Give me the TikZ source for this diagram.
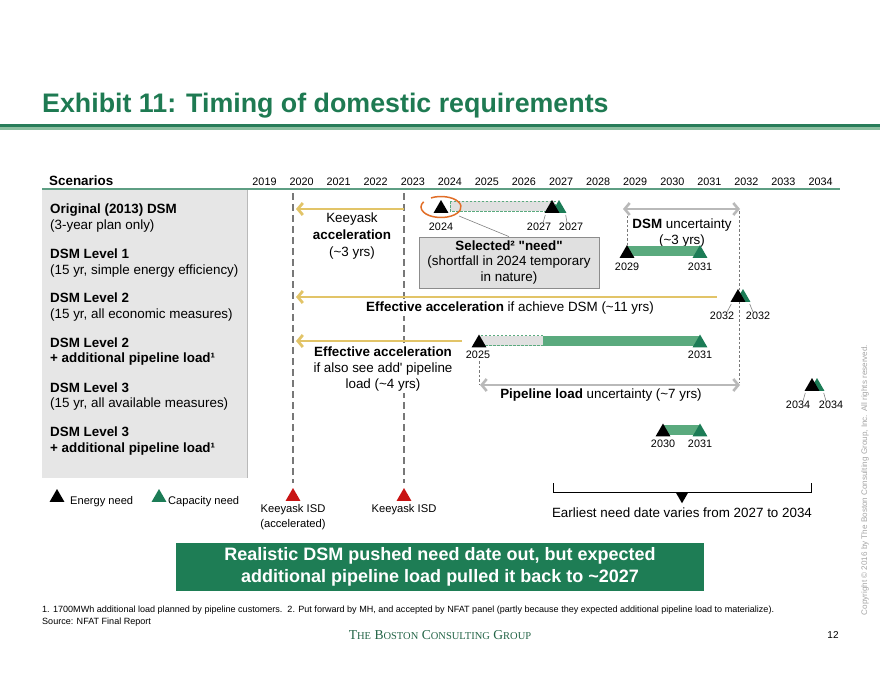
\documentclass[tikz,border=0pt]{standalone}
\usepackage{fontspec}
\setmainfont{Liberation Sans}
\newfontfamily\bcgserif{Liberation Serif}
\usetikzlibrary{arrows.meta,shapes.geometric,calc}
\definecolor{titlegreen}{RGB}{30,122,82}
\definecolor{linegreen}{RGB}{40,125,90}
\definecolor{lightgreen}{RGB}{140,190,160}
\definecolor{bargreen}{RGB}{90,170,126}
\definecolor{capgreen}{RGB}{28,124,86}
\definecolor{goldc}{RGB}{226,196,104}
\definecolor{arrowgray}{RGB}{185,185,185}
\definecolor{boxfill}{RGB}{224,224,224}
\definecolor{boxdraw}{RGB}{140,140,140}
\definecolor{panelgray}{RGB}{230,230,230}
\definecolor{needred}{RGB}{200,20,20}
\definecolor{bannergreen}{RGB}{30,125,85}
\definecolor{dashgray}{RGB}{120,120,120}
\definecolor{orangec}{RGB}{225,110,40}
\definecolor{copygray}{RGB}{165,165,165}
\definecolor{bcggreen}{RGB}{35,100,70}
\begin{document}
\begin{tikzpicture}[x=1pt,y=-1pt,
  txt/.style={font=\fontsize{13.4}{16.5}\selectfont, inner sep=0pt, align=center},
  wtxt/.style={txt, fill=white, inner sep=1.5pt},
  ltxt/.style={font=\fontsize{13.4}{16}\selectfont, inner sep=0pt, anchor=base west},
  yr/.style={font=\fontsize{10.8}{13}\selectfont, inner sep=0pt},
  smalltxt/.style={font=\fontsize{11.2}{14}\selectfont, inner sep=0pt, anchor=base},
  etri/.style={regular polygon, regular polygon sides=3, minimum size=17pt, inner sep=0pt, fill=black},
  ctri/.style={etri, fill=capgreen},
  rtri/.style={etri, fill=needred},
  goldarrow/.style={draw=goldc, line width=2.8pt, -{Straight Barb[length=5pt,width=12pt]}},
  grayarrow/.style={draw=arrowgray, line width=2.6pt, {Straight Barb[length=5pt,width=12pt]}-{Straight Barb[length=5pt,width=12pt]}},
  keyline/.style={draw=dashgray, line width=1.3pt, dash pattern=on 7pt off 4pt},
  thindash/.style={draw=dashgray, line width=0.7pt, dash pattern=on 2.5pt off 2pt},
  lead/.style={draw=gray, line width=0.6pt},
  gbar/.style={fill=bargreen},
  dbar/.style={fill=boxfill, draw=bargreen, line width=0.7pt, dash pattern=on 2.5pt off 1.5pt},
]
\useasboundingbox (0,0) rectangle (880,680);
% header
\node[anchor=base west, inner sep=0pt, font=\fontsize{26.8}{30}\selectfont\bfseries, text=titlegreen] (title) at (42,112) {Exhibit 11: Timing of domestic requirements};
\fill[linegreen] (0,124) rectangle (880,127);
\fill[lightgreen] (0,127) rectangle (880,130);
\node[anchor=base west, inner sep=0pt, font=\fontsize{13.4}{16}\selectfont\bfseries] (scen) at (49,185.5) {Scenarios};
\foreach \i in {0,...,15} {
  \pgfmathtruncatemacro\yy{2019+\i}
  \node[yr, anchor=base] (hy\yy) at ({264.5+37.07*\i},185) {\yy};
}
\draw[linegreen!75, line width=1.2pt] (42,189) -- (840,189);
% left panel
\fill[panelgray] (42,190) rectangle (247,478);
\draw[gray!55, line width=0.8pt] (247,190) -- (247,478);
\node[ltxt] (s1a) at (50,213) {\textbf{Original (2013) DSM}};
\node[ltxt] (s1b) at (50,229) {(3-year plan only)};
\node[ltxt] (s2a) at (50,258) {\textbf{DSM Level 1}};
\node[ltxt] (s2b) at (50,274) {(15 yr, simple energy efficiency)};
\node[ltxt] (s3a) at (50,302) {\textbf{DSM Level 2}};
\node[ltxt] (s3b) at (50,318) {(15 yr, all economic measures)};
\node[ltxt] (s4a) at (50,347) {\textbf{DSM Level 2}};
\node[ltxt] (s4b) at (50,362) {\textbf{+ additional pipeline load¹}};
\node[ltxt] (s5a) at (50,392) {\textbf{DSM Level 3}};
\node[ltxt] (s5b) at (50,407) {(15 yr, all available measures)};
\node[ltxt] (s6a) at (50,436) {\textbf{DSM Level 3}};
\node[ltxt] (s6b) at (50,452) {\textbf{+ additional pipeline load¹}};
% Keeyask dashed lines
\coordinate (kAt) at (293,193); \coordinate (kAb) at (293,483);
\coordinate (kBt) at (404,193); \coordinate (kBb) at (404,483);
\draw[keyline] (kAt) -- (kAb);
\draw[keyline] (kBt) -- (kBb);
\node[rtri] (isdA) at (293,496.5) {};
\node[rtri] (isdB) at (404,496.5) {};
\node[smalltxt] (isdAl) at (293,512) {Keeyask ISD};
\node[smalltxt] (isdAl2) at (293,527) {(accelerated)};
\node[smalltxt] (isdBl) at (404,512) {Keeyask ISD};
% row 1
\coordinate (ka1) at (404,209); \coordinate (ka2) at (296,209);
\draw[goldarrow] (ka1) -- (ka2);
\node[txt, font=\fontsize{13.4}{17}\selectfont] (keetxt) at (352,236) {Keeyask\\\textbf{acceleration}\\(\textasciitilde3 yrs)};
\draw[dbar] (450,201) rectangle (555,211);
\node[etri] (e24) at (441,208.5) {};
\node[ctri] (c27) at (559,208.5) {};
\node[etri] (e27) at (552,208.5) {};
\node[yr] (l24) at (441,227) {2024};
\node[yr] (l27a) at (539,227) {2027};
\node[yr] (l27b) at (571,227) {2027};
\draw[lead] ($(l27a.north)+(4,0)$) -- ($(e27.corner 2)+(1,2)$);
\draw[lead] ($(l27b.north)+(-4,0)$) -- ($(c27.corner 3)+(-1,2)$);
\draw[orangec, line width=1.5pt] (441,207) ++(240:20 and 10.5) arc[start angle=240, end angle=570, x radius=20, y radius=10.5];
\node[txt, draw=boxdraw, fill=boxfill, line width=0.8pt, minimum width=180pt, minimum height=51pt, font=\fontsize{13.4}{15.8}\selectfont] (selbox) at (509,262.5) {\textbf{Selected² \textquotedbl need\textquotedbl}\\(shortfall in 2024 temporary\\in nature)};
\coordinate (ellpt) at (459,216);
\draw[lead] (ellpt) -- (selbox.north);
% DSM uncertainty
\coordinate (du1) at (623,209); \coordinate (du2) at (740,209);
\draw[thindash] (627,211) -- (627,250);
\draw[thindash] (739,211) -- (739,383);
\draw[grayarrow] (du1) -- (du2);
\node[txt] (dsmu) at (682,233) {\textbf{DSM} uncertainty\\(\textasciitilde3 yrs)};
% row 2
\fill[gbar] (627,246) rectangle (700,256);
\node[etri] (e29) at (627,253.5) {};
\node[ctri] (c31a) at (700,253.5) {};
\node[yr] (l29) at (627,267) {2029};
\node[yr] (l31a) at (700,267) {2031};
% row 3
\coordinate (ea1) at (717,297); \coordinate (ea2) at (296,297);
\draw[goldarrow] (ea1) -- (ea2);
\node[wtxt] (effa) at (510,308) {\textbf{Effective acceleration} if achieve DSM (\textasciitilde11 yrs)};
\node[ctri] (c32) at (743,297.5) {};
\node[etri] (e32) at (738,297.5) {};
\node[yr] (l32a) at (722,316) {2032};
\node[yr] (l32b) at (758,316) {2032};
\draw[lead] ($(l32a.north)+(5,0)$) -- ($(e32.corner 2)+(1,2)$);
\draw[lead] ($(l32b.north)+(-5,0)$) -- ($(c32.corner 3)+(-1,2)$);
% row 4
\coordinate (eb1) at (462,341); \coordinate (eb2) at (296,341);
\draw[goldarrow] (eb1) -- (eb2);
\node[wtxt, font=\fontsize{13.4}{16}\selectfont] (effb) at (383,369) {\textbf{Effective acceleration}\\if also see add\textquotesingle{} pipeline\\load (\textasciitilde4 yrs)};
\draw[dbar] (479,335.5) rectangle (543,345.5);
\fill[gbar] (543,335.5) rectangle (700,345.5);
\node[etri] (e25) at (479,343) {};
\node[ctri] (c31b) at (700,343) {};
\node[yr] (l25) at (478,355) {2025};
\node[yr] (l31b) at (700,355) {2031};
\draw[thindash] (479,361) -- (479,384);
\coordinate (pu1) at (480,385); \coordinate (pu2) at (740,385);
\draw[grayarrow] (pu1) -- (pu2);
\node[txt] (pipe) at (601,395.5) {\textbf{Pipeline load} uncertainty (\textasciitilde7 yrs)};
% row 5
\node[ctri] (c34) at (817,386.5) {};
\node[etri] (e34) at (812,386.5) {};
\node[yr] (l34a) at (798,405) {2034};
\node[yr] (l34b) at (831,405) {2034};
\draw[lead] ($(l34a.north)+(5,0)$) -- ($(e34.corner 2)+(1,2)$);
\draw[lead] ($(l34b.north)+(-5,0)$) -- ($(c34.corner 3)+(-1,2)$);
% row 6
\fill[gbar] (663,424.5) rectangle (700,434.5);
\node[etri] (e30) at (663,432) {};
\node[ctri] (c31c) at (700,432) {};
\node[yr] (l30) at (663,444) {2030};
\node[yr] (l31c) at (700,444) {2031};
% legend
\node[etri] (legE) at (57,497.5) {};
\node[font=\fontsize{11.1}{13}\selectfont, inner sep=0pt, anchor=base west] (legEt) at (70,504) {Energy need};
\node[ctri] (legC) at (159,497.5) {};
\node[font=\fontsize{11.1}{13}\selectfont, inner sep=0pt, anchor=base west] (legCt) at (168,504) {Capacity need};
% bracket
\coordinate (br1) at (553,483); \coordinate (br2) at (553,492);
\coordinate (br3) at (811,492); \coordinate (br4) at (811,483);
\draw[line width=0.8pt] (br1) -- (br2) -- (br3) -- (br4);
\node[regular polygon, regular polygon sides=3, shape border rotate=180, minimum size=15pt, inner sep=0pt, fill=black] (brk) at (682,495.75) {};
\node[txt, anchor=base] (earl) at (682,517.5) {Earliest need date varies from 2027 to 2034};
% banner
\node[fill=bannergreen, minimum width=528pt, minimum height=48pt, text=white, font=\bfseries\fontsize{18}{21.5}\selectfont, align=center, inner sep=0pt] (banner) at (440,567) {Realistic DSM pushed need date out, but expected\\additional pipeline load pulled it back to \textasciitilde2027};
% footnotes
\node[anchor=base west, inner sep=0pt, font=\fontsize{9.05}{11}\selectfont] (fn1) at (42,612) {1. 1700MWh additional load planned by pipeline customers.\ \ 2. Put forward by MH, and accepted by NFAT panel (partly because they expected additional pipeline load to materialize).};
\node[anchor=base west, inner sep=0pt, font=\fontsize{9.05}{11}\selectfont] (fn2) at (42,624) {Source: NFAT Final Report};
\node[anchor=base, inner sep=0pt, text=bcggreen] (bcg) at (440,639) {\bcgserif\fontsize{13.6}{16}\selectfont T{\fontsize{10.5}{12}\selectfont HE} B{\fontsize{10.5}{12}\selectfont OSTON} C{\fontsize{10.5}{12}\selectfont ONSULTING} G{\fontsize{10.5}{12}\selectfont ROUP}};
\node[anchor=base, inner sep=0pt, font=\fontsize{10}{12}\selectfont] (pg) at (833,638) {12};
\node[rotate=90, inner sep=0pt, text=copygray, font=\fontsize{8.1}{9}\selectfont] (copy) at (865,480) {Copyright \textcopyright{} 2016 by The Boston Consulting Group, Inc. All rights reserved.};
\end{tikzpicture}
\end{document}
